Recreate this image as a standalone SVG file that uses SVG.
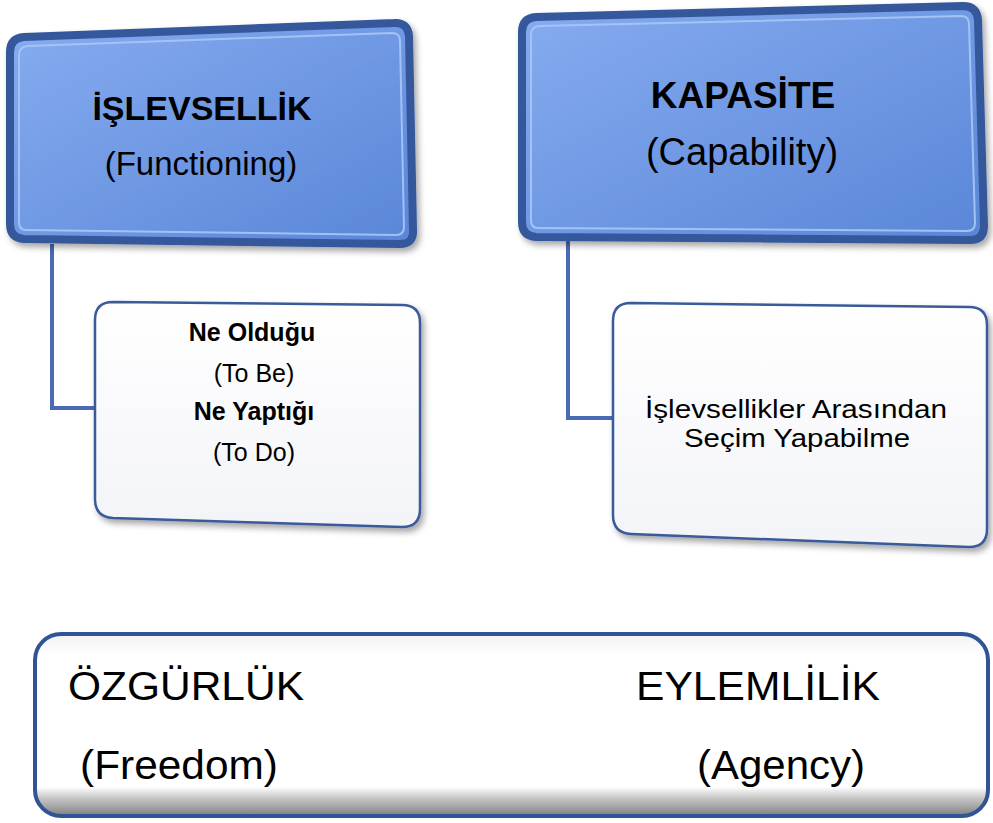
<svg xmlns="http://www.w3.org/2000/svg" width="993" height="823" viewBox="0 0 993 823">
<style>
.blue{fill:url(#gBlue);stroke:#35599c;stroke-width:8}
.hl{fill:none;stroke:#a8c6f6;stroke-width:2;opacity:.9}
.white{fill:url(#gWhite);stroke:#3a5a9a;stroke-width:2.5}
.conn{fill:none;stroke:#4a6ab3;stroke-width:4}
.t{font-family:"Liberation Sans",Arial,sans-serif;fill:#000;text-anchor:middle}
.b{font-weight:bold}
</style>
<defs>
<linearGradient id="gBlue" x1="0" y1="0" x2="1" y2="1">
<stop offset="0" stop-color="#86acf0"/>
<stop offset="1" stop-color="#5a86d8"/>
</linearGradient>
<linearGradient id="gWhite" x1="0" y1="0" x2="0" y2="1">
<stop offset="0" stop-color="#ffffff"/>
<stop offset="1" stop-color="#f3f4f8"/>
</linearGradient>
<linearGradient id="gBottom" x1="0" y1="0" x2="0" y2="1">
<stop offset="0" stop-color="#f2f2f2"/>
<stop offset="0.12" stop-color="#ffffff"/>
<stop offset="0.84" stop-color="#ffffff"/>
<stop offset="0.9" stop-color="#c8c8c8"/>
<stop offset="1" stop-color="#7f7f7f"/>
</linearGradient>
<filter id="sh" x="-10%" y="-10%" width="120%" height="130%">
<feDropShadow dx="3" dy="4" stdDeviation="3" flood-color="#000" flood-opacity="0.35"/>
</filter>
</defs>

<g id="connectors">
<path class="conn" d="M52,244 V408 H96"/>
<path class="conn" d="M568,239 V418 H614"/>
</g>

<g id="node-islevsellik">
<path class="blue" filter="url(#sh)" d="M24,37 L394,23 Q408,22 409,36 L413,230 Q414,244 400,244 L24,239 Q10,238 10,224 L10,52 Q10,38 24,37 Z"/>
<path class="hl" d="M28,46 L392,33 Q400,33 400,41 L404,227 Q404,235 396,235 L26,230 Q19,230 19,222 L19,55 Q19,47 28,46 Z"/>
<text class="t b" x="202" y="120" font-size="34">İŞLEVSELLİK</text>
<text class="t" x="201" y="175" font-size="33">(Functioning)</text>
</g>

<g id="node-kapasite">
<path class="blue" filter="url(#sh)" d="M536,17 L963,6 Q977,6 978,20 L984,226 Q984,240 970,240 L536,237 Q522,236 522,222 L522,32 Q522,18 536,17 Z"/>
<path class="hl" d="M539,26 L961,16 Q969,16 969,24 L975,223 Q975,231 967,231 L538,228 Q531,228 531,220 L531,35 Q531,27 539,26 Z"/>
<text class="t b" x="743" y="108" font-size="37">KAPASİTE</text>
<text class="t" x="742" y="165" font-size="38">(Capability)</text>
</g>

<g id="node-to-be-do">
<path class="white" filter="url(#sh)" d="M113,302 L402,305 Q420,305 420,323 L420,509 Q420,527 402,527 L113,518 Q95,517 95,499 L95,320 Q95,302 113,302 Z"/>
<text class="t b" x="252" y="341" font-size="25">Ne Olduğu</text>
<text class="t" x="254" y="382" font-size="25">(To Be)</text>
<text class="t b" x="254" y="420" font-size="25">Ne Yaptığı</text>
<text class="t" x="254" y="461" font-size="25">(To Do)</text>
</g>

<g id="node-secim">
<path class="white" filter="url(#sh)" d="M631,303 L969,307 Q987,307 987,325 L987,529 Q987,547 969,547 L631,534 Q613,533 613,515 L613,321 Q613,303 631,303 Z"/>
<text class="t" x="796" y="418" font-size="25" textLength="302" lengthAdjust="spacingAndGlyphs">İşlevsellikler Arasından</text>
<text class="t" x="797" y="447" font-size="25" textLength="226" lengthAdjust="spacingAndGlyphs">Seçim Yapabilme</text>
</g>

<g id="node-bottom">
<rect x="35" y="634" width="953" height="182" rx="26" fill="url(#gBottom)" stroke="#2f5597" stroke-width="4"/>
<text class="t" x="186" y="700" font-size="41" textLength="236" lengthAdjust="spacingAndGlyphs">ÖZGÜRLÜK</text>
<text class="t" x="758" y="700" font-size="41" textLength="244" lengthAdjust="spacingAndGlyphs">EYLEMLİLİK</text>
<text class="t" x="179" y="779" font-size="41" textLength="198" lengthAdjust="spacingAndGlyphs">(Freedom)</text>
<text class="t" x="781" y="779" font-size="41" textLength="168" lengthAdjust="spacingAndGlyphs">(Agency)</text>
</g>
</svg>
